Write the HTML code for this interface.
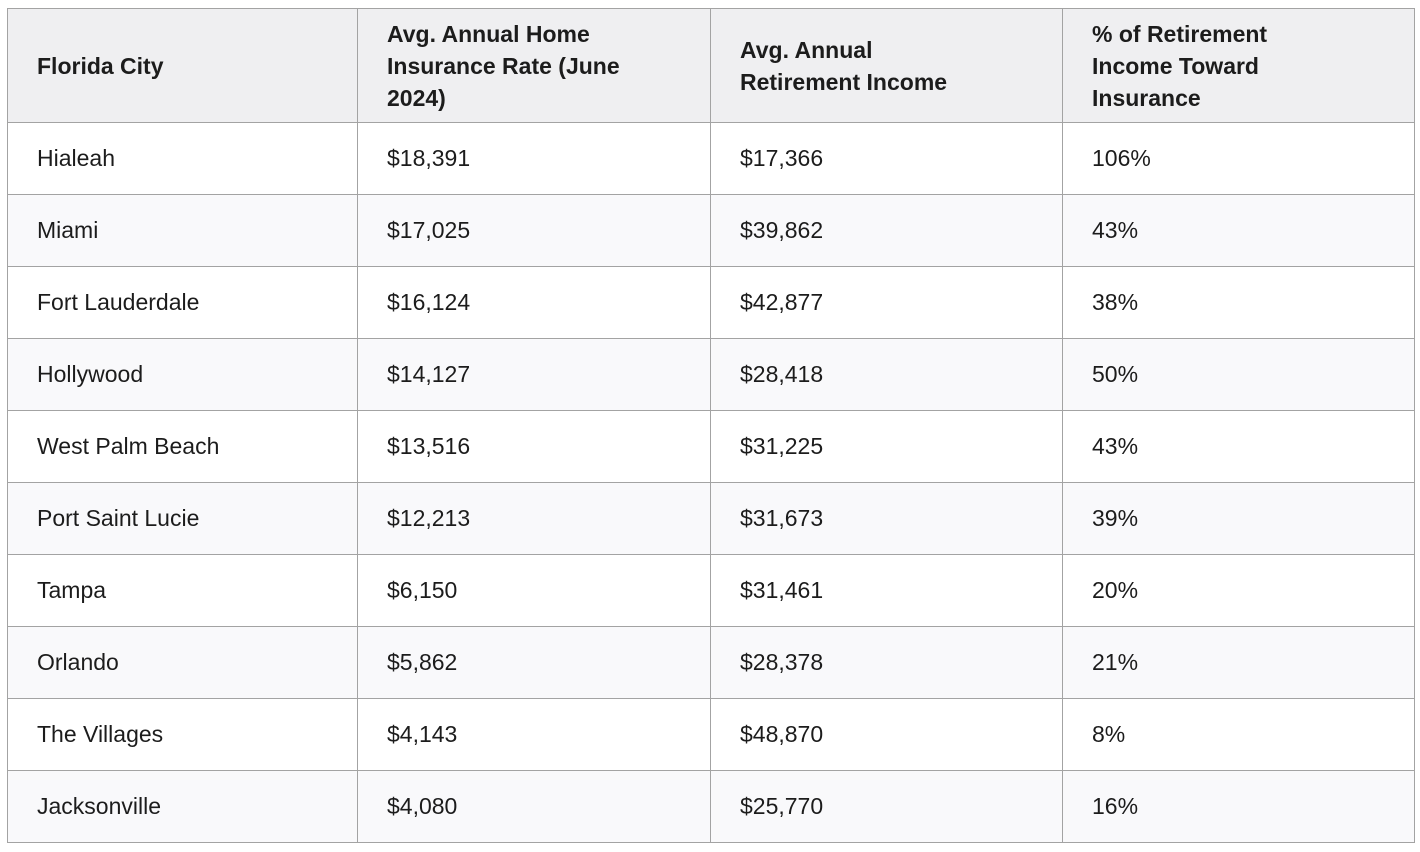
<!DOCTYPE html>
<html><head><meta charset="utf-8"><style>
html,body{margin:0;padding:0;background:#fff;width:1420px;height:852px;overflow:hidden}
table{position:absolute;left:7px;top:8px;border-collapse:collapse;font-family:"Liberation Sans",sans-serif;color:#1c1c1c;font-size:23px}
td,th{border:1px solid #a3a3a3;padding:0 0 0 29px;text-align:left;vertical-align:middle}
th{background:#efeff1;font-weight:bold;height:113px;line-height:32px;font-size:23px}
td{height:71px}
tr:nth-child(even) td{background:#f9f9fb}
</style></head><body>
<table>
<colgroup><col style="width:350px"><col style="width:353px"><col style="width:352px"><col style="width:352px"></colgroup>
<thead><tr>
<th>Florida City</th>
<th>Avg. Annual Home<br>Insurance Rate (June<br>2024)</th>
<th>Avg. Annual<br>Retirement Income</th>
<th>% of Retirement<br>Income Toward<br>Insurance</th>
</tr></thead>
<tbody>
<tr><td>Hialeah</td><td>$18,391</td><td>$17,366</td><td>106%</td></tr>
<tr><td>Miami</td><td>$17,025</td><td>$39,862</td><td>43%</td></tr>
<tr><td>Fort Lauderdale</td><td>$16,124</td><td>$42,877</td><td>38%</td></tr>
<tr><td>Hollywood</td><td>$14,127</td><td>$28,418</td><td>50%</td></tr>
<tr><td>West Palm Beach</td><td>$13,516</td><td>$31,225</td><td>43%</td></tr>
<tr><td>Port Saint Lucie</td><td>$12,213</td><td>$31,673</td><td>39%</td></tr>
<tr><td>Tampa</td><td>$6,150</td><td>$31,461</td><td>20%</td></tr>
<tr><td>Orlando</td><td>$5,862</td><td>$28,378</td><td>21%</td></tr>
<tr><td>The Villages</td><td>$4,143</td><td>$48,870</td><td>8%</td></tr>
<tr><td>Jacksonville</td><td>$4,080</td><td>$25,770</td><td>16%</td></tr>
</tbody></table>
</body></html>
